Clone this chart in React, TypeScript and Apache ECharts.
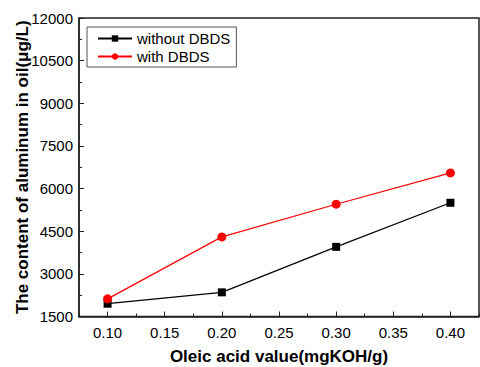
import React, { useEffect, useRef } from "react";
import * as echarts from "echarts";

const xValues = [0.1, 0.2, 0.3, 0.4];
const withoutDBDS = [1950, 2350, 3950, 5500];
const withDBDS = [2120, 4300, 5450, 6550];
const xMajorTicks = [0.1, 0.15, 0.2, 0.25, 0.3, 0.35, 0.4];
const xMinorTicks = [0.075, 0.125, 0.175, 0.225, 0.275, 0.325, 0.375, 0.425];
const seriesNames = ["without DBDS", "with DBDS"];

const FONT = "Arial, 'Liberation Sans', sans-serif";

export default function App() {
  const ref = useRef<HTMLDivElement>(null);
  useEffect(() => {
    if (!ref.current) return;
    const chart = echarts.init(ref.current, undefined, { renderer: "svg" });
    chart.setOption({
      animation: false,
      backgroundColor: "#fff",
      textStyle: { fontFamily: FONT },
      grid: {
        left: 79,
        right: 1,
        top: 18,
        bottom: 50.5,
        outerBoundsMode: "none",
        containLabel: false,
        show: true,
        borderColor: "#222",
        borderWidth: 1.5,
        backgroundColor: "transparent",
      },
      legend: {
        orient: "vertical",
        left: 87,
        top: 27,
        padding: [4, 6, 3, 10],
        borderColor: "#555",
        borderWidth: 1,
        itemWidth: 34,
        itemHeight: 8,
        itemGap: 3,
        textStyle: { fontFamily: FONT, fontSize: 15, color: "#000", padding: [0, 0, 0, 0] },
        data: seriesNames,
      },
      xAxis: [
        {
          type: "value",
          min: 0.075,
          max: 0.425,
          interval: 0.025,
          name: "Oleic acid value(mgKOH/g)",
          nameLocation: "middle",
          nameGap: 31,
          nameMoveOverlap: false,
          nameTextStyle: { fontFamily: FONT, fontSize: 17, fontWeight: "bold", color: "#000" },
          axisLine: { show: true, lineStyle: { color: "#222", width: 1.5 } },
          axisTick: {
            show: true,
            inside: true,
            length: 5,
            customValues: xMajorTicks,
            lineStyle: { color: "#222", width: 1 },
          },
          axisLabel: {
            fontFamily: FONT,
            fontSize: 15,
            color: "#000",
            margin: 8,
            customValues: xMajorTicks,
            formatter: (v: number) => v.toFixed(2),
          },
          splitLine: { show: false },
        },
        {
          type: "value",
          min: 0.075,
          max: 0.425,
          interval: 0.025,
          position: "bottom",
          axisLine: { show: false },
          axisTick: {
            show: true,
            inside: true,
            length: 3,
            customValues: xMinorTicks,
            lineStyle: { color: "#222", width: 1 },
          },
          axisLabel: { show: false },
          splitLine: { show: false },
        },
      ],
      yAxis: {
        type: "value",
        min: 1500,
        max: 12000,
        interval: 1500,
        name: "The content of aluminum in oil(μg/L)",
        nameLocation: "middle",
        nameGap: 48,
        nameMoveOverlap: false,
        nameTextStyle: { fontFamily: FONT, fontSize: 17, fontWeight: "bold", color: "#000" },
        axisLine: { show: true, lineStyle: { color: "#222", width: 1.5 } },
        axisTick: { show: true, inside: true, length: 5, lineStyle: { color: "#222", width: 1 } },
        minorTick: { show: true, splitNumber: 2, length: 3, lineStyle: { color: "#222", width: 1 } },
        axisLabel: {
          fontFamily: FONT,
          fontSize: 15,
          color: "#000",
          margin: 6,
          formatter: (v: number) => String(v),
        },
        splitLine: { show: false },
        minorSplitLine: { show: false },
      },
      series: [
        {
          name: seriesNames[0],
          type: "line",
          data: xValues.map((x, i) => [x, withoutDBDS[i]]),
          symbol: "rect",
          symbolSize: 8,
          itemStyle: { color: "#000" },
          lineStyle: { color: "#000", width: 1.2 },
        },
        {
          name: seriesNames[1],
          type: "line",
          data: xValues.map((x, i) => [x, withDBDS[i]]),
          symbol: "circle",
          symbolSize: 9,
          itemStyle: { color: "#ff0000" },
          lineStyle: { color: "#ff0000", width: 1.2 },
        },
      ],
    });
    return () => chart.dispose();
  }, []);
  return <div ref={ref} style={{ width: 480, height: 367, position: "absolute", left: 0, top: 0 }} />;
}
